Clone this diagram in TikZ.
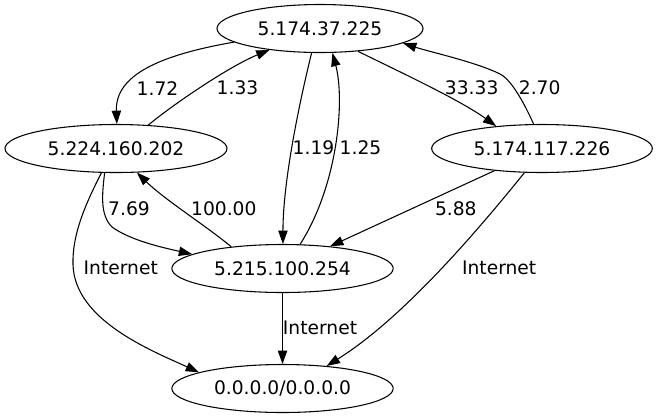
\documentclass[tikz,border=0pt]{standalone}
\usepackage{fontspec}
\setmainfont{DejaVu Sans}
\usetikzlibrary{shapes.geometric,arrows.meta}
\begin{document}
\begin{tikzpicture}[x=0.75pt,y=-0.75pt,
  host/.style={ellipse,draw,line width=0.8pt,inner sep=0pt,minimum height=36pt,font=\fontsize{14pt}{16pt}\selectfont},
  lbl/.style={inner sep=0pt,font=\fontsize{14pt}{16pt}\selectfont},
  link/.style={draw,line width=0.8pt,-{Triangle[length=10pt,width=7pt]}}]
\useasboundingbox (0,0) rectangle (659,419);
\node[host,minimum width=154.5pt] (A) at (320,28.5) {5.174.37.225};
\node[host,minimum width=166.5pt] (B) at (116,148.5) {5.224.160.202};
\node[host,minimum width=165.5pt] (C) at (542,148.5) {5.174.117.226};
\node[host,minimum width=166pt] (D) at (282.5,268.5) {5.215.100.254};
\node[host,minimum width=166pt] (E) at (282.5,388.5) {0.0.0.0/0.0.0.0};
% edges
\draw[link] (A.189) .. controls (160,55) and (115,75) .. (B.88);
\draw[link] (B.36) .. controls (175,103) and (230,66) .. (A.203);
\draw[link] (A.251) .. controls (300,100) and (283,180) .. (D.89);
\draw[link] (D.54) .. controls (338,185) and (345,100) .. (A.297);
\draw[link] (A.329) .. controls (400,72) and (460,100) .. (C.154);
\draw[link] (C.109) .. controls (525,105) and (512,80) .. (500,74) .. controls (476,62) and (430,52) .. (A.350);
\draw[link] (B.245) .. controls (102,195) and (100,215) .. (112,227) .. controls (130,240) and (160,247) .. (D.171);
\draw[link] (D.157) .. controls (205,225) and (165,200) .. (B.311);
\draw[link] (B.239) .. controls (85,205) and (72,235) .. (73,265) .. controls (75,320) and (150,350) .. (E.169);
\draw[link] (C.205) -- (D.25);
\draw[link] (C.234) .. controls (470,240) and (400,320) .. (E.27);
\draw[link] (D) -- (E);
% labels
\node[lbl] (l1) at (157.5,88.3) {1.72};
\node[lbl] (l2) at (237.5,88) {1.33};
\node[lbl] (l3) at (313.5,147.5) {1.19};
\node[lbl] (l4) at (360.5,147.5) {1.25};
\node[lbl] (l5) at (471.7,88) {33.33};
\node[lbl] (l6) at (539.7,88) {2.70};
\node[lbl] (l7) at (129,208.3) {7.69};
\node[lbl] (l8) at (223.8,208.3) {100.00};
\node[lbl] (l9) at (455.8,208.3) {5.88};
\node[lbl] (l10) at (120.8,268.3) {Internet};
\node[lbl] (l11) at (499.2,268) {Internet};
\node[lbl] (l12) at (320,327.7) {Internet};
\end{tikzpicture}
\end{document}
